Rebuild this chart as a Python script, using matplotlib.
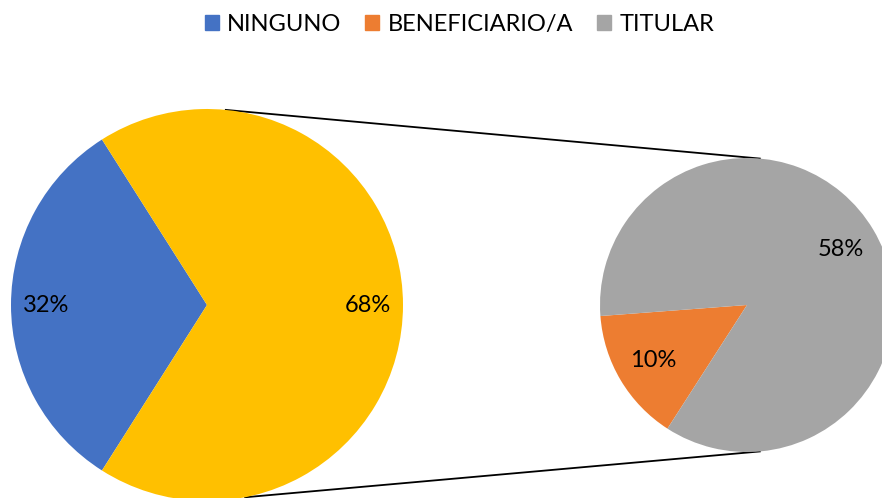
import numpy as np
import matplotlib.pyplot as plt
from matplotlib.patches import Patch

plt.rcParams["font.family"] = ["Lato", "DejaVu Sans"]

# datos
main_labels = ["NINGUNO", "OTROS"]
main_values = [32, 68]
sub_labels = ["BENEFICIARIO/A", "TITULAR"]
sub_values = [10, 58]
legend_labels = ["NINGUNO", "BENEFICIARIO/A", "TITULAR"]

main_colors = ["#4472C4", "#FFC000"]
sub_colors = ["#ED7D31", "#A5A5A5"]

W, H = 882, 498
fig = plt.figure(figsize=(W / 100, H / 100), dpi=100)
ax = fig.add_axes([0, 0, 1, 1])
ax.set_xlim(0, W)
ax.set_ylim(0, H)
ax.set_aspect("equal")
ax.axis("off")

# pastel principal
c1, r1 = (207, 193), 196
ax.pie(main_values, colors=main_colors, startangle=122.4, center=c1, radius=r1,
       autopct="%1.0f%%", pctdistance=0.82, frame=True,
       textprops={"fontsize": 17, "color": "#000000"})

# pastel secundario (porcentajes sobre el total)
c2, r2 = (747, 193), 147
sub_total = sum(sub_values)
ax.pie(sub_values, colors=sub_colors, startangle=184.3, center=c2, radius=r2,
       autopct=lambda p: f"{p * sub_total / 100:.0f}%", pctdistance=0.74, frame=True,
       textprops={"fontsize": 17, "color": "#000000"})
ax.set_xlim(0, W)
ax.set_ylim(0, H)
ax.axis("off")


def pt(c, r, ang):
    a = np.radians(ang)
    return c[0] + r * np.cos(a), c[1] + r * np.sin(a)


# lineas de conexion
for a1, a2 in [(84.5, 85.0), (-78.8, -85.0)]:
    p1 = pt(c1, r1, a1)
    p2 = pt(c2, r2, a2)
    ax.plot([p1[0], p2[0]], [p1[1], p2[1]], color="black", lw=1.3, zorder=0.5)

handles = [Patch(color=c) for c in [main_colors[0]] + sub_colors]
fig.legend(handles, legend_labels, loc="upper center", ncol=3, frameon=False,
           bbox_to_anchor=(0.521, 1.015), fontsize=17, handlelength=0.6, handleheight=0.6,
           handletextpad=0.35, columnspacing=1.0)

fig.savefig("out.png", dpi=100)
